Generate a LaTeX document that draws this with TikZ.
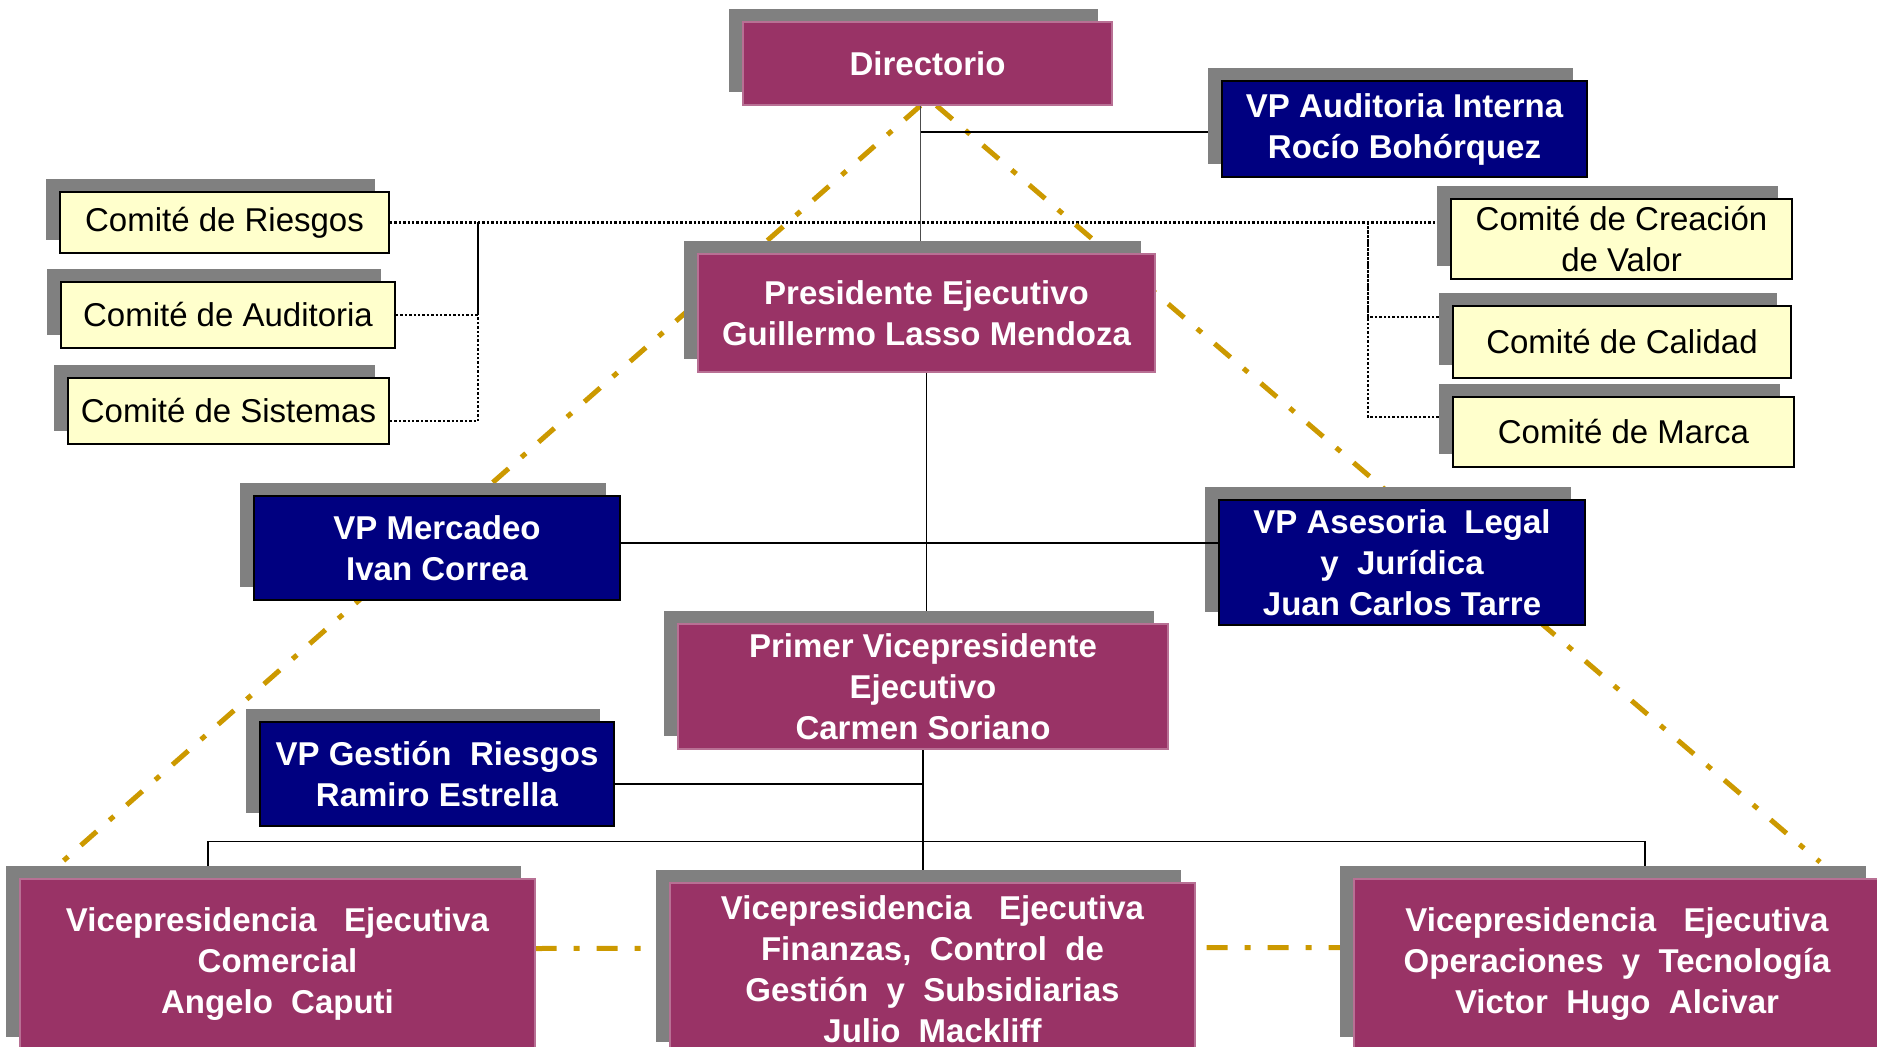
\documentclass[tikz,border=0pt]{standalone}
\usepackage{fontspec}
\setmainfont{Liberation Sans}
\usetikzlibrary{shadows,calc,backgrounds}
\definecolor{mora}{RGB}{153,51,102}
\definecolor{azulito}{RGB}{0,0,128}
\definecolor{crema}{RGB}{255,255,204}
\definecolor{sombra}{RGB}{128,128,128}
\definecolor{oro}{RGB}{204,153,0}
\newcommand{\letra}{\fontsize{16.5}{20.5}\selectfont}
\tikzset{
  sombrita/.style={drop shadow={shadow xshift=-7pt, shadow yshift=6.5pt, fill=sombra, opacity=1}},
  cajamora/.style={rectangle, sombrita, fill=mora, draw=mora!70!white, line width=0.6pt, text=white, align=center, inner sep=2pt, font=\letra\bfseries},
  cajaazul/.style={rectangle, sombrita, fill=azulito, draw=black, line width=1.2pt, text=white, align=center, inner sep=2pt, font=\letra\bfseries},
  comite/.style={rectangle, sombrita, fill=crema, draw=black, line width=1pt, align=center, inner sep=1pt, font=\letra},
  linea/.style={draw=black, line width=0.9pt},
  punteado/.style={draw=black, line width=1.3pt, dash pattern=on 1.2pt off 1pt},
  dorado/.style={draw=oro, line width=2.5pt, dash pattern=on 10.5pt off 8.5pt on 3pt off 8.5pt}
}

\begin{document}
\begin{tikzpicture}[x=0.5pt,y=-0.5pt]
\useasboundingbox (0,0) rectangle (1877,1047);
\clip (0,0) rectangle (1877,1047);

% directorio y presidencia
\node[cajamora, minimum width=184.5pt, minimum height=41.5pt] (dir) at (927.5,63.5) {Directorio};
\node[cajaazul, minimum width=182.5pt, minimum height=48pt] (vpai) at (1404.5,129) {VP Auditoria Interna\\Rocío Bohórquez};
\node[cajamora, minimum width=228.5pt, minimum height=59pt] (pres) at (926.5,313) {Presidente Ejecutivo\\Guillermo Lasso Mendoza};

% comites
\node[comite, minimum width=164.5pt, minimum height=30.5pt] (cries) at (224.5,222.5) {Comité de Riesgos};
\node[comite, minimum width=167pt, minimum height=33pt] (caud) at (228,315) {Comité de Auditoria};
\node[comite, minimum width=160.5pt, minimum height=33pt] (csis) at (228.5,411) {Comité de Sistemas};
\node[comite, minimum width=170.5pt, minimum height=40pt] (ccre) at (1621.5,239) {Comité de Creación\\de Valor};
\node[comite, minimum width=169pt, minimum height=36pt] (ccal) at (1622,342) {Comité de Calidad};
\node[comite, minimum width=170.5pt, minimum height=35pt] (cmar) at (1623.5,432) {Comité de Marca};

% vicepresidencias
\node[cajaazul, minimum width=183pt, minimum height=52pt] (merc) at (437,548) {VP Mercadeo\\Ivan Correa};
\node[cajaazul, minimum width=183pt, minimum height=62.5pt] (ases) at (1402,562.5) {VP Asesoria~ Legal\\y~ Jurídica\\Juan Carlos Tarre};
\node[cajamora, minimum width=245pt, minimum height=62.5pt] (pvp) at (923,686.5) {Primer Vicepresidente\\Ejecutivo\\Carmen Soriano};
\node[cajaazul, minimum width=177pt, minimum height=52pt] (gest) at (437,774) {VP Gestión~ Riesgos\\Ramiro Estrella};
\node[cajamora, minimum width=257.5pt, minimum height=85.5pt] (vcom) at (277.5,964.5) {Vicepresidencia~ ~Ejecutiva\\Comercial\\Angelo~ Caputi};
\node[cajamora, minimum width=262.5pt, minimum height=86pt] (vfin) at (932.5,969) {Vicepresidencia~ ~Ejecutiva\\Finanzas,~ Control~ de\\Gestión~ y~ Subsidiarias\\Julio~ Mackliff};
\node[cajamora, minimum width=263pt, minimum height=85.5pt] (vope) at (1617,964.5) {Vicepresidencia~ ~Ejecutiva\\Operaciones~ y~ Tecnología\\Victor~ Hugo~ Alcivar};

\draw[linea] ($(merc.east)+(0,-5)$) -- ($(merc.east -| ases.west)+(0,-5)$);

\begin{pgfonlayer}{background}
  % llaves punteadas de los comites
  \coordinate (llave1) at ($(cries.east)+(88,0)$);
  \coordinate (llave2) at ($(ccre.west |- cries.east)+(-82,0)$);
  \draw[punteado] (cries.east) -- (cries.east -| ccre.west);
  \draw[punteado] (caud.east) -| (llave1);
  \draw[punteado] ($(csis.east)+(0,10)$) -| (llave1);
  \draw[punteado] ($(ccal.west)+(0,-25)$) -| (llave2);
  \draw[punteado] ($(cmar.west)+(0,-15)$) -| (llave2);

  % triangulo
  \coordinate (vi) at (62,862);
  \coordinate (vd) at (1820,862);
  \draw[dorado] ($(dir.south)+(-7,0)$) -- (vi);
  \draw[dorado] ($(dir.south)+(9,0)$) -- (vd);
  \draw[dorado] ($(vcom.east)+(0,-16)$) -- ($(vope.west)+(0,-17)$);

  \draw[linea, draw=black!70, line width=0.6pt] ($(dir.south)+(-7,0)$) -- ($(dir.south |- pres.north)+(-7,0)$);
  \draw[linea] ($(dir.south |- vpai.west)+(-7,3)$) -- ($(vpai.west)+(0,3)$);
  \draw[linea] (pres.south) -- (pres.south |- pvp.north);
  \draw[linea] (pvp.south) -- (pvp.south |- vfin.north);
  \draw[linea] ($(gest.east)+(0,10)$) -- ($(gest.east -| pvp.south)+(0,10)$);
  \draw[linea] ($(vcom.north)+(-69.5,0)$) -- ++(0,-37) -| ($(vope.north)+(28,0)$);
\end{pgfonlayer}
\end{tikzpicture}
\end{document}
